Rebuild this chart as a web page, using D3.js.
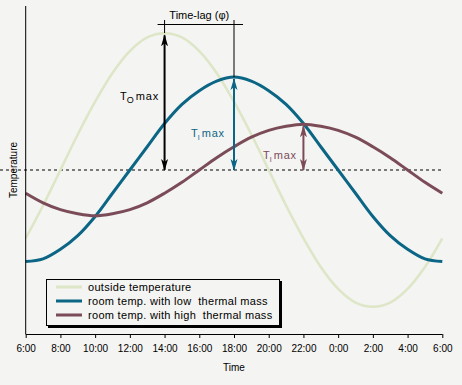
<!doctype html>
<html>
  <head>
    <script src="https://d3js.org/d3.v7.min.js"></script>
    <style>
      body { margin: 0; background: #f4f4f2; }
      text { font-family: "Liberation Sans", Arial, sans-serif; }
    </style>
  </head>
  <body>
    <script>
      // hours from 6:00 to 6:00 next day
      var hours = [6,7,8,9,10,11,12,13,14,15,16,17,18,19,20,21,22,23,24,25,26,27,28,29,30];
      var tickHours  = [6,8,10,12,14,16,18,20,22,24,26,28,30];
      var tickLabels = ["6:00","8:00","10:00","12:00","14:00","16:00","18:00","20:00","22:00","0:00","2:00","4:00","6:00"];
      var meanTemp = 20;

      var outsideTemp = [15.0,17.4,20.0,22.6,25.0,27.1,28.7,29.7,30.0,29.7,28.7,27.1,25.0,22.6,20.0,17.4,15.0,12.9,11.3,10.3,10.0,10.3,11.3,12.9,15.0];
      var lowMassTemp = [13.3,13.5,14.2,15.2,16.6,18.3,20.0,21.7,23.4,24.8,25.8,26.5,26.8,26.5,25.8,24.8,23.4,21.7,20.0,18.3,16.6,15.2,14.2,13.5,13.3];
      var highMassTemp = [18.3,17.6,17.1,16.8,16.65,16.8,17.1,17.6,18.3,19.1,20.0,20.9,21.7,22.4,22.9,23.2,23.35,23.2,22.9,22.4,21.7,20.9,20.0,19.1,18.3];

      var seriesNames = ["outside temperature","room temp. with low  thermal mass","room temp. with high  thermal mass"];
      var seriesColors = ["#dde6c6","#0b6585","#7b4c58"];
      var seriesWidths = [2.5,3,3];

      var width = 462, height = 385;

      var x = d3.scaleLinear().domain([6,30]).range([25.7,442.3]);
      var y = d3.scaleLinear().domain([8,32]).range([334,6]);

      var svg = d3.select("body").append("svg")
        .attr("width",width)
        .attr("height",height)
        .style("background","#f4f4f2");

      var defs = svg.append("defs");
      seriesColors.concat(["#000"]).forEach(function(c,i){
        defs.append("marker")
          .attr("id","arr"+i)
          .attr("viewBox","0 -5 12 10")
          .attr("refX",11).attr("refY",0)
          .attr("markerWidth",12).attr("markerHeight",10)
          .attr("markerUnits","userSpaceOnUse")
          .attr("orient","auto-start-reverse")
          .append("path")
          .attr("d","M0,-3.5L12,0L0,3.5L3,0Z")
          .attr("fill",c);
      });

      // mean line
      svg.append("line")
        .attr("x1",0).attr("x2",x(30)+1)
        .attr("y1",y(meanTemp)).attr("y2",y(meanTemp))
        .attr("stroke","#000").attr("stroke-dasharray","3,3");

      var line = d3.line().curve(d3.curveCatmullRom)
        .x(function(d,i){ return x(hours[i]); })
        .y(function(d){ return y(d); });

      var allSeries = [outsideTemp, lowMassTemp, highMassTemp];
      allSeries.forEach(function(s,i){
        svg.append("path")
          .attr("d",line(s))
          .attr("fill","none")
          .attr("stroke",seriesColors[i])
          .attr("stroke-width",seriesWidths[i]);
      });

      // axes
      var xAxis = svg.append("g").attr("transform","translate(0,"+y(8)+")");
      xAxis.call(d3.axisBottom(x).tickValues(tickHours).tickSize(4).tickFormat(function(d,i){ return tickLabels[i]; }));
      xAxis.select(".domain").attr("d","M"+x(6)+",0.5H"+x(30));
      xAxis.selectAll("text").attr("font-size",10).attr("dy","1.1em").attr("font-family","Liberation Sans, Arial");
      svg.append("line").attr("x1",x(6)).attr("x2",x(6)).attr("y1",6).attr("y2",y(8)).attr("stroke","#000");

      svg.append("text").attr("x",x(18)).attr("y",371).attr("text-anchor","middle").attr("font-size",10).text("Time");
      svg.append("text").attr("transform","translate(17,"+y(meanTemp)+") rotate(-90)")
        .attr("text-anchor","middle").attr("font-size",10).text("Temperature");

      // amplitude arrows from the mean to each peak
      function peakHour(s){ return hours[d3.maxIndex(s)]; }
      var arrowColors = ["#000", seriesColors[1], seriesColors[2]];
      var arrowIds = [3,1,2];
      allSeries.forEach(function(s,i){
        var px = x(peakHour(s));
        svg.append("line")
          .attr("x1",px).attr("x2",px)
          .attr("y1",y(meanTemp)).attr("y2",y(d3.max(s))+2)
          .attr("stroke",arrowColors[i]).attr("stroke-width",2)
          .attr("marker-start","url(#arr"+arrowIds[i]+")")
          .attr("marker-end","url(#arr"+arrowIds[i]+")");
      });

      function ampLabel(tx,ty,sub,color,subSize){
        var t = svg.append("text").attr("x",tx).attr("y",ty).attr("fill",color).attr("font-size",11);
        t.append("tspan").text("T");
        t.append("tspan").attr("font-size",subSize).attr("dy",3).text(sub);
        t.append("tspan").attr("dy",-3).attr("dx",2).attr("letter-spacing",0.8).text("max");
      }
      ampLabel(120,100,"O","#000",9);
      ampLabel(191,137,"I",seriesColors[1],7);
      ampLabel(263,159,"I",seriesColors[2],7);

      // time lag bracket
      var x0 = x(peakHour(outsideTemp)), x1 = x(peakHour(lowMassTemp));
      svg.append("line").attr("x1",x0-7).attr("x2",x1+9).attr("y1",24.5).attr("y2",24.5).attr("stroke","#000");
      svg.append("line").attr("x1",x0).attr("x2",x0).attr("y1",20).attr("y2",33).attr("stroke","#000");
      svg.append("line").attr("x1",x1).attr("x2",x1).attr("y1",20).attr("y2",y(d3.max(lowMassTemp))).attr("stroke","#000");
      svg.append("text").attr("x",(x0+x1)/2).attr("y",19).attr("text-anchor","middle").attr("font-size",11).text("Time-lag (\u03c6)");

      // legend
      var lg = svg.append("g").attr("transform","translate(46,279)");
      lg.append("rect").attr("x",2).attr("y",2).attr("width",234).attr("height",47).attr("fill","#000");
      lg.append("rect").attr("x",0.5).attr("y",0.5).attr("width",233).attr("height",46).attr("fill","#f4f4f2").attr("stroke","#000");
      seriesNames.forEach(function(n,i){
        var ly = 8 + i*14;
        lg.append("line").attr("x1",10).attr("x2",36).attr("y1",ly).attr("y2",ly)
          .attr("stroke",seriesColors[i]).attr("stroke-width",3);
        lg.append("text").attr("x",42).attr("y",ly+4).attr("font-size",11).attr("letter-spacing",0.3)
          .attr("xml:space","preserve").text(n);
      });
    </script>
  </body>
</html>
